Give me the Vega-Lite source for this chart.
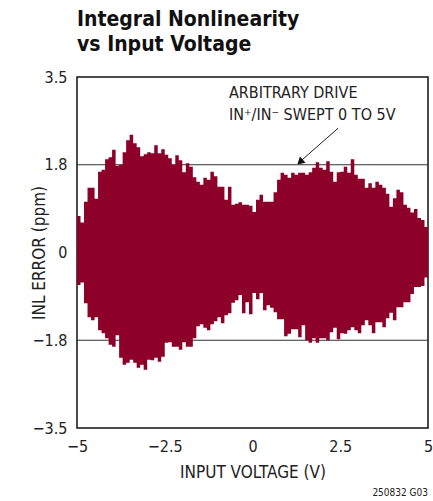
{
  "$schema": "https://vega.github.io/schema/vega-lite/v6.json",
  "width": 351,
  "height": 351,
  "autosize": "none",
  "padding": {"left": 77, "top": 77, "right": 5, "bottom": 73},
  "background": "white",
  "config": {
    "view": {"stroke": "#111", "strokeWidth": 1.5},
    "font": "Liberation Sans Narrow, DejaVu Sans Condensed, Roboto Condensed, Liberation Sans, sans-serif",
    "axis": {"domain": false, "ticks": false, "grid": false, "labelFont": "Liberation Sans Narrow, DejaVu Sans Condensed, Roboto Condensed, Liberation Sans, sans-serif", "titleFont": "Liberation Sans Narrow, DejaVu Sans Condensed, Roboto Condensed, Liberation Sans, sans-serif", "labelColor": "#222", "titleColor": "#222", "titleFontWeight": "normal"}
  },
  "title": {
    "text": ["Integral Nonlinearity", "vs Input Voltage"],
    "anchor": "start",
    "frame": "group",
    "font": "Liberation Sans Narrow, DejaVu Sans Condensed, Roboto Condensed, Liberation Sans, sans-serif",
    "fontSize": 21,
    "fontWeight": "bold",
    "color": "#111",
    "lineHeight": 25,
    "offset": 14
  },
  "datasets": {
    "inl": [
      {"v": -5.0, "hi": 0.73, "lo": -0.65},
      {"v": -4.9, "hi": 0.60, "lo": -0.60},
      {"v": -4.8, "hi": 1.01, "lo": -1.01},
      {"v": -4.7, "hi": 1.29, "lo": -1.29},
      {"v": -4.6, "hi": 1.29, "lo": -1.35},
      {"v": -4.5, "hi": 1.07, "lo": -1.29},
      {"v": -4.4, "hi": 1.61, "lo": -1.55},
      {"v": -4.3, "hi": 1.65, "lo": -1.61},
      {"v": -4.2, "hi": 1.86, "lo": -1.71},
      {"v": -4.1, "hi": 1.90, "lo": -1.84},
      {"v": -4.0, "hi": 2.05, "lo": -1.88},
      {"v": -3.9, "hi": 1.73, "lo": -1.65},
      {"v": -3.8, "hi": 1.75, "lo": -2.10},
      {"v": -3.7, "hi": 2.00, "lo": -2.24},
      {"v": -3.6, "hi": 2.24, "lo": -2.20},
      {"v": -3.5, "hi": 2.35, "lo": -2.14},
      {"v": -3.4, "hi": 2.18, "lo": -2.20},
      {"v": -3.3, "hi": 2.10, "lo": -2.30},
      {"v": -3.2, "hi": 1.92, "lo": -2.24},
      {"v": -3.1, "hi": 1.96, "lo": -2.34},
      {"v": -3.0, "hi": 2.00, "lo": -2.14},
      {"v": -2.9, "hi": 1.98, "lo": -2.15},
      {"v": -2.8, "hi": 2.14, "lo": -2.10},
      {"v": -2.7, "hi": 1.98, "lo": -2.18},
      {"v": -2.6, "hi": 2.06, "lo": -2.08},
      {"v": -2.5, "hi": 1.95, "lo": -1.80},
      {"v": -2.4, "hi": 1.88, "lo": -1.79},
      {"v": -2.3, "hi": 1.75, "lo": -1.88},
      {"v": -2.2, "hi": 1.94, "lo": -1.88},
      {"v": -2.1, "hi": 1.84, "lo": -1.94},
      {"v": -2.0, "hi": 1.60, "lo": -1.79},
      {"v": -1.9, "hi": 1.78, "lo": -1.88},
      {"v": -1.8, "hi": 1.71, "lo": -1.88},
      {"v": -1.7, "hi": 1.50, "lo": -1.71},
      {"v": -1.6, "hi": 1.41, "lo": -1.47},
      {"v": -1.5, "hi": 1.35, "lo": -1.43},
      {"v": -1.4, "hi": 1.49, "lo": -1.50},
      {"v": -1.3, "hi": 1.45, "lo": -1.55},
      {"v": -1.2, "hi": 1.61, "lo": -1.43},
      {"v": -1.1, "hi": 1.52, "lo": -1.37},
      {"v": -1.0, "hi": 1.31, "lo": -1.29},
      {"v": -0.9, "hi": 1.31, "lo": -1.41},
      {"v": -0.8, "hi": 1.05, "lo": -1.25},
      {"v": -0.7, "hi": 1.31, "lo": -1.21},
      {"v": -0.6, "hi": 0.95, "lo": -1.00},
      {"v": -0.5, "hi": 0.97, "lo": -0.95},
      {"v": -0.4, "hi": 1.00, "lo": -0.85},
      {"v": -0.3, "hi": 0.95, "lo": -1.21},
      {"v": -0.2, "hi": 0.95, "lo": -0.99},
      {"v": -0.1, "hi": 0.93, "lo": -1.23},
      {"v": 0.0, "hi": 0.81, "lo": -0.81},
      {"v": 0.1, "hi": 1.05, "lo": -0.93},
      {"v": 0.2, "hi": 1.15, "lo": -0.81},
      {"v": 0.3, "hi": 1.01, "lo": -1.15},
      {"v": 0.4, "hi": 1.01, "lo": -1.05},
      {"v": 0.5, "hi": 1.01, "lo": -1.10},
      {"v": 0.6, "hi": 1.20, "lo": -1.19},
      {"v": 0.7, "hi": 1.45, "lo": -1.33},
      {"v": 0.8, "hi": 1.59, "lo": -1.33},
      {"v": 0.9, "hi": 1.55, "lo": -1.67},
      {"v": 1.0, "hi": 1.49, "lo": -1.62},
      {"v": 1.1, "hi": 1.59, "lo": -1.53},
      {"v": 1.2, "hi": 1.55, "lo": -1.53},
      {"v": 1.3, "hi": 1.59, "lo": -1.69},
      {"v": 1.4, "hi": 1.59, "lo": -1.45},
      {"v": 1.5, "hi": 1.55, "lo": -1.75},
      {"v": 1.6, "hi": 1.60, "lo": -1.80},
      {"v": 1.7, "hi": 1.69, "lo": -1.71},
      {"v": 1.8, "hi": 1.80, "lo": -1.80},
      {"v": 1.9, "hi": 1.69, "lo": -1.71},
      {"v": 2.0, "hi": 1.65, "lo": -1.71},
      {"v": 2.1, "hi": 1.82, "lo": -1.75},
      {"v": 2.2, "hi": 1.61, "lo": -1.59},
      {"v": 2.3, "hi": 1.41, "lo": -1.50},
      {"v": 2.4, "hi": 1.60, "lo": -1.73},
      {"v": 2.5, "hi": 1.61, "lo": -1.61},
      {"v": 2.6, "hi": 1.71, "lo": -1.62},
      {"v": 2.7, "hi": 1.59, "lo": -1.55},
      {"v": 2.8, "hi": 1.86, "lo": -1.49},
      {"v": 2.9, "hi": 1.55, "lo": -1.55},
      {"v": 3.0, "hi": 1.47, "lo": -1.61},
      {"v": 3.1, "hi": 1.47, "lo": -1.45},
      {"v": 3.2, "hi": 1.29, "lo": -1.35},
      {"v": 3.3, "hi": 1.38, "lo": -1.45},
      {"v": 3.4, "hi": 1.29, "lo": -1.61},
      {"v": 3.5, "hi": 1.41, "lo": -1.39},
      {"v": 3.6, "hi": 1.35, "lo": -1.39},
      {"v": 3.7, "hi": 1.29, "lo": -1.49},
      {"v": 3.8, "hi": 1.17, "lo": -1.31},
      {"v": 3.9, "hi": 0.91, "lo": -1.20},
      {"v": 4.0, "hi": 1.08, "lo": -1.35},
      {"v": 4.1, "hi": 1.25, "lo": -1.09},
      {"v": 4.2, "hi": 1.20, "lo": -1.09},
      {"v": 4.3, "hi": 0.95, "lo": -0.99},
      {"v": 4.4, "hi": 0.89, "lo": -0.99},
      {"v": 4.5, "hi": 0.80, "lo": -0.83},
      {"v": 4.6, "hi": 0.87, "lo": -0.69},
      {"v": 4.7, "hi": 0.69, "lo": -0.69},
      {"v": 4.8, "hi": 0.65, "lo": -0.67},
      {"v": 4.9, "hi": 0.51, "lo": -0.50},
      {"v": 5.0, "hi": 0.51, "lo": -0.50}
    ],
    "grid": [{"e": 1.75}, {"e": -1.75}],
    "arrow": [{"v": 2.44, "e": 2.48}, {"v": 1.40, "e": 1.84}],
    "head": [{"v": 1.38, "e": 1.82}],
    "note": [
      {"v": -0.67, "e": 3.08, "t": "ARBITRARY DRIVE"},
      {"v": -0.67, "e": 2.64, "t": "IN⁺/IN⁻ SWEPT 0 TO 5V"}
    ],
    "foot": [{"v": 5.0, "e": -3.5, "t": "250832 G03"}]
  },
  "layer": [
    {
      "data": {"name": "grid"},
      "mark": {"type": "rule", "color": "#333", "strokeWidth": 1},
      "encoding": {
        "y": {
          "field": "e", "type": "quantitative",
          "scale": {"domain": [-3.5, 3.5], "nice": false, "zero": false},
          "axis": {
            "title": "INL ERROR (ppm)",
            "values": [-3.5, -1.75, 0, 1.75, 3.5],
            "labelExpr": "datum.value == 1.75 ? '1.8' : datum.value == -1.75 ? '−1.8' : replace(format(datum.value, '~g'), '-', '−')",
            "labelFontSize": 16,
            "labelPadding": 10,
            "labelFlush": false,
            "titleFontSize": 17,
            "titleX": -38,
            "titleBaseline": "middle"
          }
        }
      }
    },
    {
      "data": {"name": "inl"},
      "mark": {"type": "area", "interpolate": "step-after", "color": "#8C0029", "opacity": 1},
      "encoding": {
        "x": {
          "field": "v", "type": "quantitative",
          "scale": {"domain": [-5, 5], "nice": false, "zero": false},
          "axis": {
            "title": "INPUT VOLTAGE (V)",
            "values": [-5, -2.5, 0, 2.5, 5],
            "labelExpr": "replace(format(datum.value, '~g'), '-', '−')",
            "labelFontSize": 16,
            "labelPadding": 10,
            "labelFlush": false,
            "titleFontSize": 17,
            "titlePadding": 10
          }
        },
        "y": {
          "field": "hi", "type": "quantitative",
          "scale": {"domain": [-3.5, 3.5], "nice": false, "zero": false},
          "axis": {
            "title": "INL ERROR (ppm)",
            "values": [-3.5, -1.75, 0, 1.75, 3.5],
            "labelExpr": "datum.value == 1.75 ? '1.8' : datum.value == -1.75 ? '−1.8' : replace(format(datum.value, '~g'), '-', '−')",
            "labelFontSize": 16,
            "labelPadding": 10,
            "labelFlush": false,
            "titleFontSize": 17,
            "titleX": -38,
            "titleBaseline": "middle"
          }
        },
        "y2": {"field": "lo"}
      }
    },
    {
      "data": {"name": "arrow"},
      "mark": {"type": "line", "color": "#222", "strokeWidth": 1},
      "encoding": {
        "x": {"field": "v", "type": "quantitative", "title": "INPUT VOLTAGE (V)"},
        "y": {"field": "e", "type": "quantitative", "title": "INL ERROR (ppm)"}
      }
    },
    {
      "data": {"name": "head"},
      "mark": {"type": "point", "shape": "triangle", "filled": true, "color": "#111", "size": 70, "angle": 228, "opacity": 1},
      "encoding": {
        "x": {"field": "v", "type": "quantitative", "title": "INPUT VOLTAGE (V)"},
        "y": {"field": "e", "type": "quantitative", "title": "INL ERROR (ppm)"}
      }
    },
    {
      "data": {"name": "note"},
      "mark": {"type": "text", "align": "left", "baseline": "alphabetic", "fontSize": 16, "color": "#222"},
      "encoding": {
        "x": {"field": "v", "type": "quantitative", "title": "INPUT VOLTAGE (V)"},
        "y": {"field": "e", "type": "quantitative", "title": "INL ERROR (ppm)"},
        "text": {"field": "t"}
      }
    },
    {
      "data": {"name": "foot"},
      "mark": {"type": "text", "align": "right", "baseline": "alphabetic", "fontSize": 10, "dy": 68, "color": "#222"},
      "encoding": {
        "x": {"field": "v", "type": "quantitative", "title": "INPUT VOLTAGE (V)"},
        "y": {"field": "e", "type": "quantitative", "title": "INL ERROR (ppm)"},
        "text": {"field": "t"}
      }
    }
  ]
}
